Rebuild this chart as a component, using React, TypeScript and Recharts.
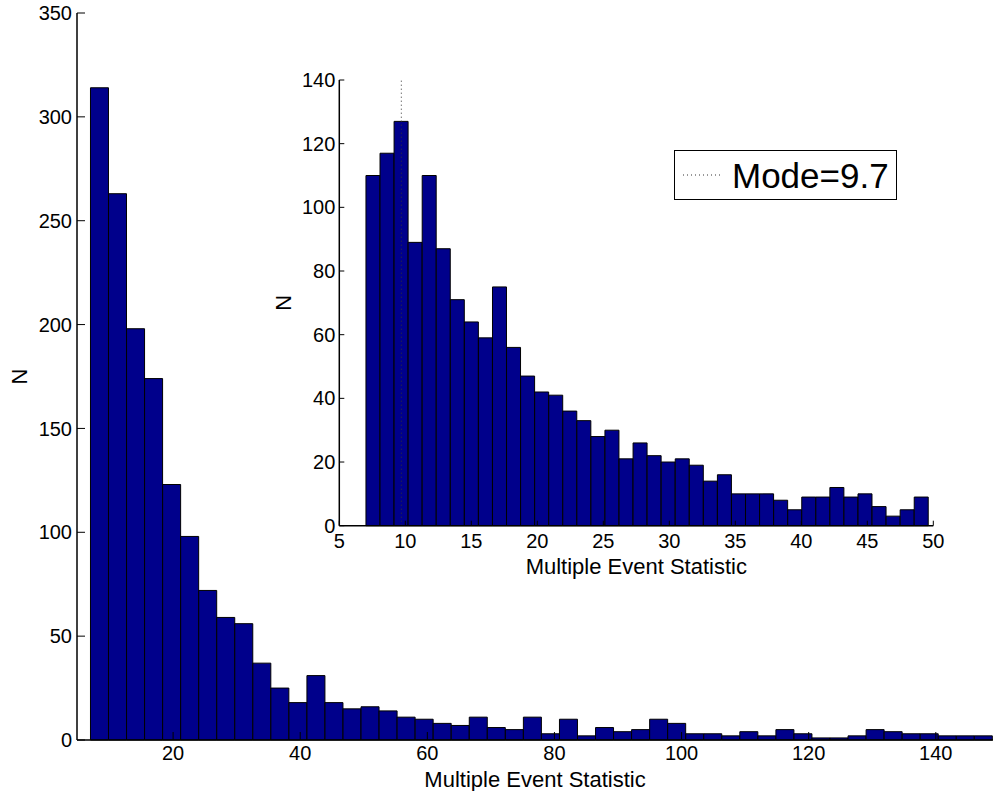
import React from "react";
import {
  Bar,
  ComposedChart,
  Label,
  Legend,
  ReferenceLine,
  XAxis,
  YAxis,
} from "recharts";

const FONT = '"Liberation Sans", Arial, Helvetica, sans-serif';
const BAR_FILL = "#00008B";
const INK = "#000";

// main histogram: 50 bins, first edge 7.0, bin width ~2.84
const mainBinStart = 7.0;
const mainBinWidth = 2.838;
const mainCounts = [
  314, 263, 198, 174, 123, 98, 72, 59, 56, 37,
  25, 18, 31, 18, 15, 16, 14, 11, 10, 8,
  7, 11, 6, 5, 11, 3, 10, 2, 6, 4,
  5, 10, 8, 3, 3, 2, 4, 2, 5, 3,
  1, 1, 2, 5, 4, 3, 3, 2, 2, 2,
];
const mainXTicks = [20, 40, 60, 80, 100, 120, 140];
const mainYTicks = [0, 50, 100, 150, 200, 250, 300, 350];

// inset histogram: 40 bins, first edge 7.02, bin width ~1.065
const insetBinStart = 7.02;
const insetBinWidth = 1.065;
const insetCounts = [
  110, 117, 127, 89, 110, 87, 71, 64, 59, 75,
  56, 47, 42, 41, 36, 33, 28, 30, 21, 26,
  22, 20, 21, 19, 14, 16, 10, 10, 10, 8,
  5, 9, 9, 12, 9, 10, 6, 3, 5, 9,
];
const insetXTicks = [5, 10, 15, 20, 25, 30, 35, 40, 45, 50];
const insetYTicks = [0, 20, 40, 60, 80, 100, 120, 140];
const modeValue = 9.7;

const mainData = mainCounts.map((n, i) => ({
  x: mainBinStart + mainBinWidth * (i + 0.5),
  n,
}));
const insetData = insetCounts.map((n, i) => ({
  x: insetBinStart + insetBinWidth * (i + 0.5),
  n,
}));

const tickStyle = { fill: INK, fontSize: 20, fontFamily: FONT };
const axisLine = { stroke: INK, strokeWidth: 1.5 };
const tickLine = { stroke: INK, strokeWidth: 1 };

function VerticalLabel(props: any) {
  const { viewBox, text, cx } = props;
  const x = viewBox.x + cx;
  const y = viewBox.y + viewBox.height / 2;
  return (
    <text
      x={x}
      y={y}
      dy="0.36em"
      transform={`rotate(-90 ${x} ${y})`}
      textAnchor="middle"
      fontSize={22}
      fontFamily={FONT}
      fill={INK}
    >
      {text}
    </text>
  );
}

function ModeLegend() {
  return (
    <svg width={223} height={50} style={{ display: "block" }}>
      <rect x={0.5} y={0.5} width={222} height={49} fill="#fff" stroke={INK} />
      <line x1={9} y1={25} x2={49} y2={25} stroke="#333" strokeDasharray="1 3" />
      <text x={58} y={38} fontSize={35} fontFamily={FONT} fill={INK}>
        Mode=9.7
      </text>
    </svg>
  );
}

export default function App() {
  return (
    <div style={{ position: "absolute", left: 0, top: 0, width: 995, height: 791 }}>
      <div style={{ position: "absolute", left: 0, top: 0 }}>
        <ComposedChart
          width={995}
          height={791}
          data={mainData}
          margin={{ top: 13, right: 2, bottom: 0, left: 0 }}
          barCategoryGap={0}
          barGap={0}
        >
          <XAxis
            dataKey="x"
            type="number"
            domain={[4.88, 149]}
            ticks={mainXTicks}
            allowDataOverflow
            height={51}
            tickSize={-8}
            tickMargin={14}
            tick={tickStyle}
            axisLine={axisLine}
            tickLine={tickLine}
            interval={0}
          >
            <Label
              value="Multiple Event Statistic"
              position="insideBottom"
              offset={4}
              fontSize={22}
              fontFamily={FONT}
              fill={INK}
            />
          </XAxis>
          <XAxis
            xAxisId="top"
            dataKey="x"
            orientation="top"
            type="number"
            domain={[4.88, 149]}
            ticks={mainXTicks}
            allowDataOverflow
            height={0}
            tickSize={-8}
            tick={false}
            axisLine={axisLine}
            tickLine={tickLine}
            interval={0}
          />
          <YAxis
            type="number"
            domain={[0, 350]}
            ticks={mainYTicks}
            width={77}
            tickSize={-8}
            tickMargin={13}
            tick={tickStyle}
            axisLine={axisLine}
            tickLine={tickLine}
            interval={0}
          >
            <Label content={(p: any) => <VerticalLabel {...p} text="N" cx={19} />} />
          </YAxis>
          <YAxis
            yAxisId="right"
            orientation="right"
            type="number"
            domain={[0, 350]}
            ticks={mainYTicks}
            width={0}
            tickSize={-8}
            tick={false}
            axisLine={axisLine}
            tickLine={tickLine}
            interval={0}
          />
          <Bar
            dataKey="n"
            fill={BAR_FILL}
            stroke={INK}
            strokeWidth={1}
            isAnimationActive={false}
          />
        </ComposedChart>
      </div>

      <div style={{ position: "absolute", left: 260, top: 60 }}>
        <ComposedChart
          width={700}
          height={530}
          data={insetData}
          margin={{ top: 20, right: 26.7, bottom: 0, left: 0 }}
          barCategoryGap={0}
          barGap={0}
        >
          <XAxis
            dataKey="x"
            type="number"
            domain={[5, 50]}
            ticks={insetXTicks}
            allowDataOverflow
            height={64.3}
            tickSize={-5}
            tickMargin={13}
            tick={tickStyle}
            axisLine={axisLine}
            tickLine={tickLine}
            interval={0}
          >
            <Label
              value="Multiple Event Statistic"
              position="insideBottom"
              offset={16}
              fontSize={22}
              fontFamily={FONT}
              fill={INK}
            />
          </XAxis>
          <XAxis
            xAxisId="top"
            dataKey="x"
            orientation="top"
            type="number"
            domain={[5, 50]}
            ticks={insetXTicks}
            allowDataOverflow
            height={0}
            tickSize={-5}
            tick={false}
            axisLine={axisLine}
            tickLine={tickLine}
            interval={0}
          />
          <YAxis
            type="number"
            domain={[0, 140]}
            ticks={insetYTicks}
            width={79.3}
            tickSize={-5}
            tickMargin={9}
            tick={tickStyle}
            axisLine={axisLine}
            tickLine={tickLine}
            interval={0}
          >
            <Label content={(p: any) => <VerticalLabel {...p} text="N" cx={23} />} />
          </YAxis>
          <YAxis
            yAxisId="right"
            orientation="right"
            type="number"
            domain={[0, 140]}
            ticks={insetYTicks}
            width={0}
            tickSize={-5}
            tick={false}
            axisLine={axisLine}
            tickLine={tickLine}
            interval={0}
          />
          <Bar
            dataKey="n"
            fill={BAR_FILL}
            stroke={INK}
            strokeWidth={1}
            isAnimationActive={false}
          />
          <ReferenceLine
            x={modeValue}
            stroke="#333"
            strokeDasharray="1 3"
            strokeWidth={1}
          />
          <Legend
            layout="vertical"
            align="center"
            verticalAlign="middle"
            content={() => <ModeLegend />}
            wrapperStyle={{
              position: "absolute",
              left: 414,
              top: 90,
              bottom: "auto",
              width: 223,
              height: 50,
            }}
          />
        </ComposedChart>
      </div>
    </div>
  );
}
